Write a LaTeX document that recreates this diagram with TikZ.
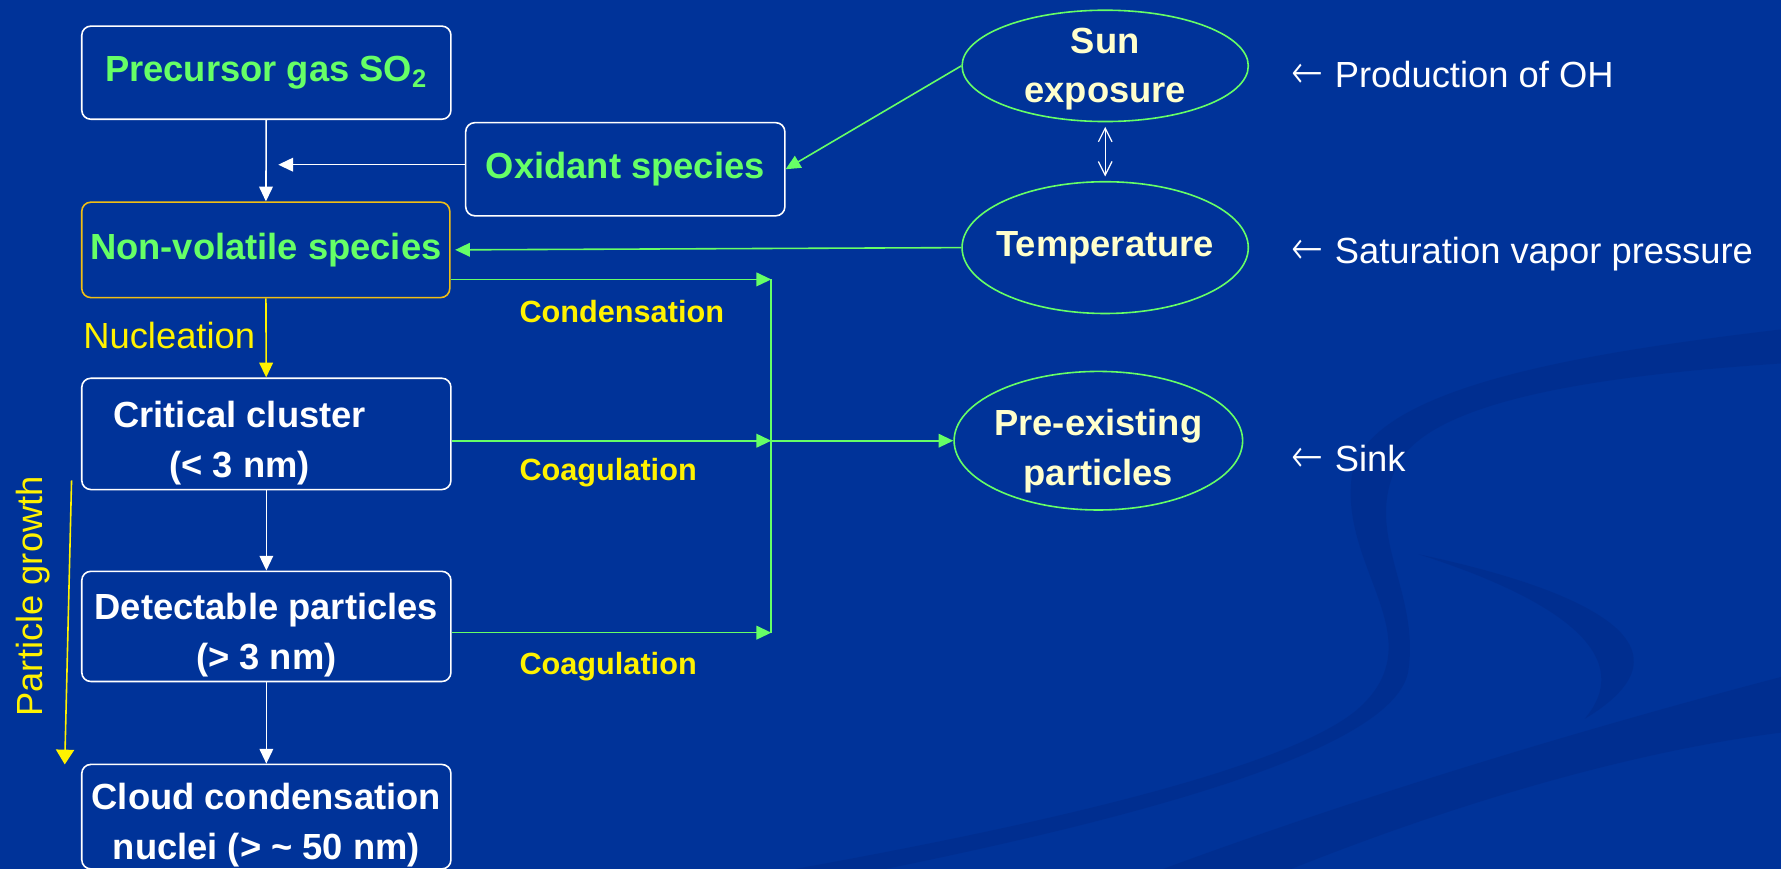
\documentclass[tikz,border=0pt]{standalone}
\usepackage{fontspec}
\setmainfont{Liberation Sans}
\newfontfamily\arrowfont{DejaVu Sans ExtraLight}
\usetikzlibrary{arrows.meta,shapes.geometric}
\definecolor{bgblue}{RGB}{0,51,153}
\definecolor{swoosh}{RGB}{0,40,132}
\definecolor{lgreen}{RGB}{102,255,102}
\definecolor{lyellow}{RGB}{255,255,204}
\definecolor{gold}{RGB}{240,190,20}
\newcommand{\boxfont}{\fontsize{16}{22}\selectfont}
\newcommand{\edgefont}{\fontsize{13.5}{16}\selectfont}
\newcommand{\topgap}[1][19pt]{\rule{0pt}{#1}}
\newcommand{\larr}{\raisebox{-0.5pt}{\scalebox{1.05}[1.3]{\arrowfont ←}}\hspace{0.3em}}
\tikzset{
  box/.style={draw=white, line width=0.7pt, rounded corners=4pt, minimum width=162.5pt,
    inner sep=0pt, align=center, font=\boxfont\bfseries, text=white},
  oval/.style={ellipse, draw=lgreen, line width=0.7pt, inner xsep=-30pt, inner ysep=-12pt,
    align=center, font=\boxfont\bfseries, text=lyellow},
  wflow/.style={white, line width=0.7pt, -{Triangle[length=6.5pt,width=6pt]}},
  gflow/.style={lgreen, line width=0.7pt, -{Triangle[length=6.5pt,width=6pt]}},
  yflow/.style={yellow, line width=0.7pt, -{Triangle[length=6.5pt,width=6pt]}},
  edgelbl/.style={anchor=base west, text=yellow, font=\edgefont\bfseries, inner sep=0pt},
  note/.style={anchor=base west, text=white, font=\boxfont, inner sep=0pt}
}
\begin{document}
\begin{tikzpicture}[x=0.5pt, y=-0.5pt]
\fill[bgblue] (0,0) rectangle (1568,765);
\useasboundingbox (0,0) rectangle (1568,765);
\fill[swoosh, opacity=0.4] (1568,290) .. controls (1400,310) and (1200,340) .. (1190,420)
  .. controls (1180,500) and (1260,560) .. (1200,620) .. controls (1150,670) and (950,720) .. (700,765)
  -- (780,765) .. controls (1000,720) and (1230,660) .. (1240,590)
  .. controls (1250,520) and (1200,470) .. (1230,410) .. controls (1260,350) and (1420,330) .. (1568,320) -- cycle;
\fill[swoosh, opacity=0.4] (1568,596) .. controls (1400,640) and (1200,700) .. (1024,765)
  -- (1137,765) .. controls (1300,700) and (1450,660) .. (1568,645) -- cycle;
\fill[swoosh, opacity=0.4] (1249,488) .. controls (1400,520) and (1500,570) .. (1395,633)
  .. controls (1440,580) and (1380,530) .. (1249,488) -- cycle;

\node[box, minimum height=41pt, text=lgreen] (pre) at (234.5,64) {Precursor gas SO\textsubscript{2}};
\node[box, minimum width=140.5pt, minimum height=41pt, text=lgreen] (oxi) at (550.5,149) {Oxidant species};
\node[box, draw=gold, minimum width=162pt, minimum height=42pt, text=lgreen] (nonvol) at (234,220) {Non-volatile species};
\node[box, minimum height=49pt] (crit) at (234.5,382) {};
\node[align=center, font=\boxfont\bfseries, text=white, inner sep=0pt] (crittxt) at (211,390) {Critical cluster\\(< 3 nm)};
\node[box, minimum height=48.5pt] (detect) at (234.5,551.5) {\topgap Detectable particles\\(> 3 nm)};
\node[box, minimum height=46pt] (cloud) at (234.5,719) {\topgap Cloud condensation\\nuclei (> \textasciitilde{} 50 nm)};

\node[oval, minimum width=126pt, minimum height=49pt] (sun) at (973,58) {\topgap[14pt]Sun\\exposure};
\node[oval, minimum width=126pt, minimum height=58pt] (temp) at (973,218) {Temperature};
\node[oval, minimum width=127pt, minimum height=61pt] (preex) at (967,388) {\topgap[21pt]Pre-existing\\particles};

\node[note] (oh) at (1137,77) {\larr Production of OH};
\node[note] (svp) at (1137,232) {\larr Saturation vapor pressure};
\node[note] (sink) at (1137,415) {\larr Sink};

\coordinate (ox) at (245,145);
\coordinate (cj1) at (679,246);
\coordinate (cj2) at (679,388);
\coordinate (cj3) at (679,557);
\coordinate (pg1) at (63,423);
\coordinate (pg2) at (57,673);

\draw[wflow] (pre) -- (nonvol);
\draw[wflow] (oxi.west |- ox) -- (ox);
\draw[gflow] (sun.west) -- (oxi.east);
\draw[gflow, shorten >=2pt] (temp.west) -- (nonvol.east);
\draw[white, line width=0.5pt, {Straight Barb[length=6pt,width=6pt]}-{Straight Barb[length=6pt,width=6pt]}, shorten <=2pt, shorten >=2pt] (sun) -- (temp);
\draw[yflow] (nonvol) -- (crit);
\draw[wflow] (crit) -- (detect);
\draw[wflow] (detect) -- (cloud);
\draw[gflow] (nonvol.east |- cj1) -- (cj1);
\draw[gflow] (crit.east |- cj2) -- (cj2);
\draw[gflow] (detect.east |- cj3) -- (cj3);
\draw[lgreen, line width=0.7pt] (cj1) -- (cj3);
\draw[gflow] (cj2) -- (preex.west);
\draw[yellow, line width=0.7pt, -{Triangle[length=6.5pt,width=8pt]}] (pg1) -- (pg2);

\node[edgelbl] (cond) at (457,284) {Condensation};
\node[edgelbl] (coag1) at (457,423) {Coagulation};
\node[edgelbl] (coag2) at (457,594) {Coagulation};
\node[anchor=base west, text=yellow, font=\boxfont, inner sep=0pt] (nucl) at (73,307) {Nucleation};
\node[rotate=90, anchor=base, text=yellow, font=\boxfont, inner sep=0pt] (growth) at (37,525) {Particle growth};
\end{tikzpicture}
\end{document}
